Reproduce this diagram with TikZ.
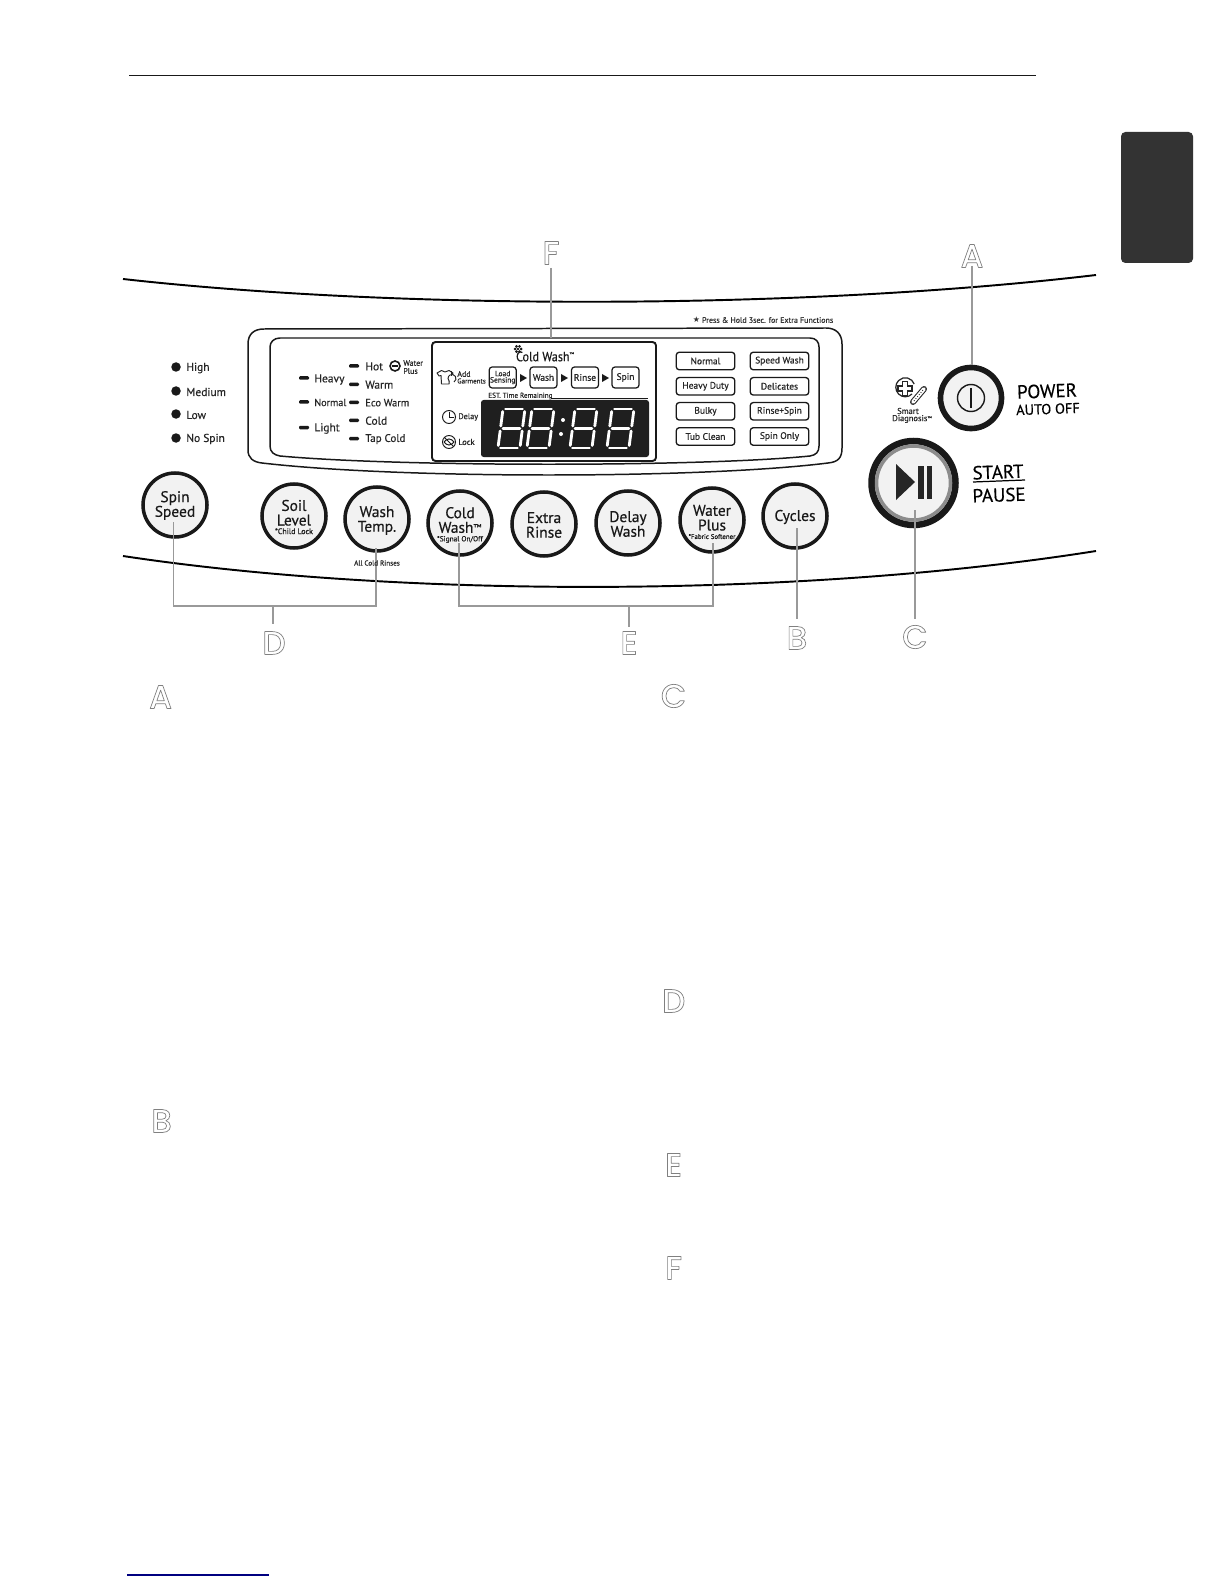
\documentclass[tikz,border=0pt]{standalone}
\usepackage{fontspec}
\setmainfont{PT Sans}[FakeBold=0.4]
\newfontfamily\letterfont{Poppins Medium}
\newfontfamily\symfont{DejaVu Sans}
\usetikzlibrary{calc}
\newcommand\px[1]{\fontsize{\fpeval{#1*0.5669}pt}{\fpeval{#1*0.95*0.5669}pt}\selectfont}
\newcommand\hollow[1]{\special{pdf:code q 1 Tr 1 j 0.4 w 0.5 G}#1\special{pdf:code Q}}
\tikzset{
  x=0.02cm,y=-0.02cm,
  ink/.style={draw=black!90,line width=0.85pt},
  lead/.style={draw=black!40,line width=1.05pt},
  btn/.style={circle,draw=black!90,line width=2pt,fill=black!5,minimum size=64*0.02cm,inner sep=0pt},
  btntext/.style={align=center,inner sep=0pt,text=black!90,font=\px{15.5}},
  tiny/.style={inner sep=0pt,anchor=west,text=black!85,font=\px{11.5}},
  small/.style={inner sep=0pt,anchor=west,text=black!85,font=\px{8}},
  dot/.style={circle,fill=black!90,minimum size=9.5*0.02cm,inner sep=0pt},
  dashmark/.style={rounded corners=0.7pt,fill=black!90,minimum width=10*0.02cm,minimum height=3.5*0.02cm,inner sep=0pt},
  cyc/.style={draw=black!90,line width=0.75pt,rounded corners=1.7pt,minimum width=58.5*0.02cm,minimum height=17.5*0.02cm,inner sep=0pt,text=black!85,font=\px{9.5}},
  stage/.style={draw=black!90,line width=0.7pt,rounded corners=1.7pt,minimum width=27*0.02cm,minimum height=21*0.02cm,inner sep=0pt,align=center,text=black!85,font=\px{9.5}},
  tri/.style={fill=black!90,draw=none},
  letter/.style={inner sep=0pt,font=\letterfont\px{33}},
  seg/.style={draw=white,line width=1.6pt,line cap=round},
}
\newcommand\sevenseg[2]{%
 \begin{scope}[shift={(#1,#2)},xslant=0.13]
  \draw[seg] (2.5,0)--(19.5,0); \draw[seg] (2.5,19.5)--(19.5,19.5); \draw[seg] (2.5,39)--(19.5,39);
  \draw[seg] (0,2.5)--(0,17); \draw[seg] (0,22)--(0,36.5);
  \draw[seg] (22,2.5)--(22,17); \draw[seg] (22,22)--(22,36.5);
 \end{scope}}
\begin{document}
\begin{tikzpicture}
\useasboundingbox (0,0) rectangle (1224,1584);
\fill[white] (0,0) rectangle (1224,1584);
% page furniture
\draw[black!90,line width=0.4pt] (129,75)--(1036,75);
\fill[black!80,rounded corners=2.5pt] (1121,132) rectangle (1193,263);
\draw[blue!50!black,line width=0.7pt] (127,1575)--(269,1575);
% console curves
\draw[black,line width=1.1pt] (123,279) .. controls (400,310) and (800,310) .. (1096,275);
\draw[black,line width=1.1pt] (123,556) .. controls (400,598) and (800,598) .. (1096,551);
% panels
\draw[ink] (264,329)--(826,328) .. controls (836,328) and (842,334) .. (842,344)--(842,448) .. controls (842,458) and (838,462) .. (828,463) .. controls (700,479) and (400,479) .. (262,463) .. controls (253,462) and (248,458) .. (248,450)--(248,344) .. controls (248,334) and (254,329) .. (264,329)--cycle;
\draw[ink] (280,338)--(810,338) .. controls (816,338) and (819,342) .. (819,347)--(819,446) .. controls (819,452) and (816,455) .. (810,456) .. controls (700,467) and (400,467) .. (280,456) .. controls (274,455) and (270,452) .. (270,446)--(270,347) .. controls (270,342) and (274,338) .. (280,338)--cycle;
\draw[black!90,line width=1.1pt,rounded corners=2pt] (432,342) rectangle (656,461);
\node[fill=black!88,rounded corners=1.5pt,minimum width=168*0.02cm,minimum height=57*0.02cm,inner sep=0pt] (led) at (565,428.5) {};
% spin list
\foreach \n/\y/\t in {s1/367/High,s2/391/Medium,s3/414/Low,s4/438/No Spin}{
  \node[dot] (d\n) at (176,\y) {};
  \node[tiny] (t\n) at (186,\y+1) {\t};
}
% soil list
\foreach \n/\y/\t/\f in {h1/379.5/Heavy/11.5,h2/402.5/Normal/10.2,h3/428.5/Light/11.5}{
  \node[tiny,font=\px{\f}] (t\n) at (314,\y) {\t};
}
\foreach \n/\y in {h1/378,h2/402,h3/427.5}{\node[dashmark] (d\n) at (304,\y) {};}
% temperature list
\foreach \n/\y/\t/\f in {w1/366/Hot/11.5,w2/384.3/Warm/11.5,w3/402.3/Eco Warm/10.5,w4/420.3/Cold/11.5,w5/438.7/Tap Cold/11}{
  \node[dashmark] (d\n) at (354,\y) {};
  \node[tiny,font=\px{\f}] (t\n) at (365,\y+0.4) {\t};
}
\draw[black!90,line width=0.9pt,fill=white] (395,366) circle (5);
\draw[black!90,line width=1.3pt] (391.5,366)--(398,366);
\node[small] (wp1) at (403,363) {Water};
\node[small] (wp2) at (403,371) {Plus};
% display
\node[inner sep=0pt,text=black!90,font=\px{13.5}] (cw) at (545,356.5) {\scalebox{0.9}[1]{Cold Wash}\raisebox{0.8ex}{\px{5}™}};
\foreach \a in {0,60,...,300}{\fill[black!90] ($(518,349)+(\a:3)$) circle (1.5);}
\fill[black!90] (518,349) circle (1.3);
\node[small] (add1) at (457,374) {Add};
\node[small,font=\px{7}] (add2) at (457,381) {Garments};
\draw[black!85,line width=0.55pt,line join=round] (437,373)--(441.5,370.5)--(445,372)--(449,370.5)--(453,373)--(451,376)--(449.5,375.5)--(449,384)--(441.5,384)--(441,375.5)--(439,376)--cycle;
\draw[black!85,line width=0.55pt,fill=white] (452,378.5) ++(60:4) arc (60:-230:4);
\draw[black!85,line width=0.55pt] (451.5,371)--(451.5,376);
\node[stage,font=\px{7.6}] (load) at (502.7,377.5) {Load\\[-0.5pt]Sensing};
\node[stage] (wash) at (543.5,377.5) {Wash};
\node[stage] (rinse) at (585,377.5) {Rinse};
\node[stage] (spin) at (625.5,377.5) {Spin};
\fill[tri] (520,374)--(527,378)--(520,382)--cycle;
\fill[tri] (561,374)--(568,378)--(561,382)--cycle;
\fill[tri] (602,374)--(609,378)--(602,382)--cycle;
\node[small,font=\px{7.2}] (est) at (488,396) {EST. Time Remaining};
\draw[black!90,line width=0.55pt] (551,398)--(648,398);
\draw[black!90,line width=0.55pt] (449,417) circle (6.5);
\draw[black!90,line width=0.55pt] (449,411.5)--(449,417)--(454,417);
\node[small,font=\px{8.2}] (dly) at (458,417) {Delay};
\draw[black!90,line width=0.55pt] (449,442) circle (6.5);
\draw[black!90,line width=0.55pt] (444.5,437.5)--(453.5,446.5);
\draw[black!90,line width=0.55pt] (444,442) .. controls (447,438) and (451,438) .. (454,442) .. controls (451,446) and (447,446) .. (444,442);
\node[small,font=\px{8.5}] (lck) at (458,442) {Lock};
\sevenseg{503}{409}
\sevenseg{532}{409}
\sevenseg{575}{409}
\sevenseg{612}{409}
\fill[white] (563,420) circle (2);
\fill[white] (561,434) circle (2);
% cycle buttons
\node[cyc] (c1) at (705.5,361) {Normal};
\node[cyc] (c2) at (779.5,361) {Speed Wash};
\node[cyc] (c3) at (705.5,386.3) {Heavy Duty};
\node[cyc] (c4) at (779.5,386.3) {Delicates};
\node[cyc] (c5) at (705.5,411.3) {Bulky};
\node[cyc] (c6) at (779.5,411.3) {Rinse+Spin};
\node[cyc] (c7) at (705.5,436.5) {Tub Clean};
\node[cyc] (c8) at (779.5,436.5) {Spin Only};
\node[inner sep=0pt,text=black!80,font=\px{8}] (press) at (763,320) {{\symfont\px{8}★} Press \& Hold 3sec. for Extra Functions};
% round buttons
\node[btn] (spinspeed) at (175,505) {};
\node[btn] (soil) at (294,516) {};
\node[btn] (temp) at (377,519) {};
\node[btn] (coldw) at (460,523) {};
\node[btn] (extra) at (544,524) {};
\node[btn] (delayw) at (628,523) {};
\node[btn] (water) at (712,520) {};
\node[btn] (cycles) at (795,516) {};
\node[btn,line width=3.2pt,minimum size=61*0.02cm] (power) at (971,398) {};
\draw[black!90,line width=0.8pt] (971,398) circle (13.5);
\draw[black!90,line width=1.1pt] (971,388)--(971,408);
\node[btn,line width=3.7pt,minimum size=84*0.02cm] (start) at (913.5,483) {};
\draw[black!45,line width=2pt] (913.5,483) circle (37);
\fill[black!85] (896,464)--(915,482)--(896,500)--cycle;
\fill[black!85] (918.3,466) rectangle (924,499);
\fill[black!85] (926.7,466) rectangle (932,499);
% leaders
\node[letter] (LA) at (972,256) {\hollow{A}};
\node[letter] (LF) at (551,253) {\hollow{F}};
\node[letter] (LD) at (274,643) {\hollow{D}};
\node[letter] (LE) at (629,643) {\hollow{E}};
\node[letter] (LB) at (797,638) {\hollow{B}};
\node[letter] (LC) at (915,637) {\hollow{C}};
\coordinate (aend) at (972,365);
\coordinate (atop) at (972,266);
\coordinate (ftop) at (551,268);
\coordinate (fend) at (551,338);
\coordinate (cend) at (915,510);
\coordinate (cbot) at (915,619);
\coordinate (bend) at (797,528);
\coordinate (bbot) at (797,619);
\coordinate (d1) at (173.5,522);
\coordinate (d2) at (376,548);
\coordinate (e1) at (459,543);
\coordinate (e2) at (713,543);
\coordinate (dbar) at (273,606);
\coordinate (dbot) at (273,624);
\coordinate (ebar) at (629,606);
\coordinate (ebot) at (629,627);
\draw[lead] (atop) -- (aend);
\draw[lead] (ftop) -- (fend);
\draw[lead] (cend) -- (cbot);
\draw[lead] (bend) -- (bbot);
\draw[lead] (d1) |- (dbar) -| (d2);
\draw[lead] (dbar) -- (dbot);
\draw[lead] (e1) |- (ebar) -| (e2);
\draw[lead] (ebar) -- (ebot);
% button labels
\node[btntext] (l1) at (175,505.5) {Spin\\Speed};
\node[btntext] (l2) at (294,517) {Soil\\Level\\[-3.5pt]{\px{8}*Child Lock}};
\node[btntext] (l3) at (377,520.5) {Wash\\Temp.};
\node[btntext] (l4) at (460,525) {Cold\\Wash\raisebox{0.3ex}{\px{9}™}\\[-3.5pt]{\px{7.4}*Signal On/Off}};
\node[btntext] (l5) at (544,525) {Extra\\Rinse};
\node[btntext] (l6) at (628,524) {Delay\\Wash};
\node[btntext] (l7) at (712,522) {Water\\Plus\\[-3.5pt]{\px{6.9}*Fabric Softener}};
\node[btntext] (l8) at (795,517) {Cycles};
\node[inner sep=0pt,text=black!85,font=\px{7.2}] (allc) at (377,563) {All Cold Rinses};
% right labels
\node[inner sep=0pt,rotate=2,font=\px{19}] (pw) at (1047,391) {POWER};
\node[inner sep=0pt,rotate=2,font=\px{14.5}] (ao) at (1048,409) {AUTO OFF};
\node[inner sep=0pt,rotate=2,font=\px{19}] (st) at (998,472) {START};
\draw[black,line width=0.7pt] (973,482)--(1025,480);
\node[inner sep=0pt,rotate=2,font=\px{19}] (pa) at (999,495) {PAUSE};
\draw[black!85,line width=0.7pt] (912,394) arc (45:340:9.5);
\draw[black!85,line width=0.7pt] (902.5,381.5)--(907.5,381.5)--(907.5,386)--(912,386)--(912,391)--(907.5,391)--(907.5,395.5)--(902.5,395.5)--(902.5,391)--(898,391)--(898,386)--(902.5,386)--cycle;
\draw[black!85,line width=3.4pt,line cap=round] (913,402)--(924,389);
\draw[white,line width=2.2pt,line cap=round] (913,402)--(924,389);
\draw[black!85,line width=0.5pt,densely dotted] (914,401)--(923,390);
\node[inner sep=0pt,text=black!85,font=\px{8.5}] (sm) at (908,411) {Smart};
\node[inner sep=0pt,text=black!85,font=\px{8.5}] (dg) at (912,419) {Diagnosis\raisebox{0.3ex}{\px{5}™}};
% lower section letters
\node[letter] (a2) at (160.6,697) {\hollow{A}};
\node[letter] (b2) at (161.6,1121) {\hollow{B}};
\node[letter] (c2) at (673.6,696) {\hollow{C}};
\node[letter] (d2l) at (673.6,1001) {\hollow{D}};
\node[letter] (e2l) at (673.6,1165) {\hollow{E}};
\node[letter] (f2) at (673.6,1268) {\hollow{F}};
\end{tikzpicture}
\end{document}
